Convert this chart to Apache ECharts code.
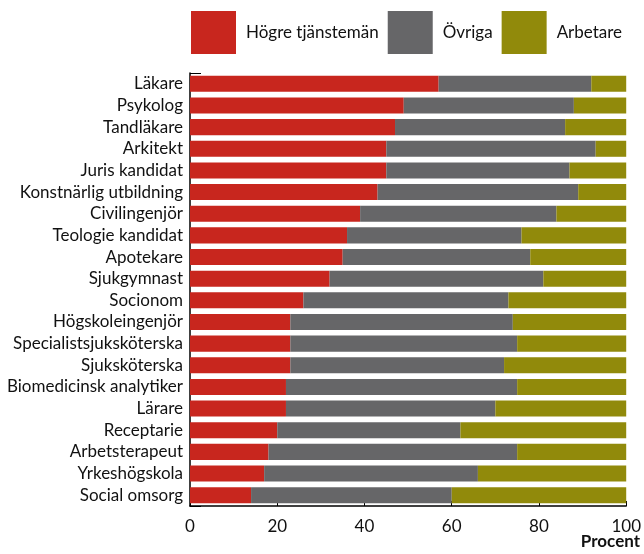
<!DOCTYPE html>
<html><head><meta charset="utf-8">
<script src="https://cdn.jsdelivr.net/npm/echarts@6/dist/echarts.min.js"></script>
<style>html,body{margin:0;padding:0;background:#fff}#c{width:644px;height:554px}</style>
</head><body><div id="c"></div>
<script>
const categories = ["Läkare","Psykolog","Tandläkare","Arkitekt","Juris kandidat","Konstnärlig utbildning","Civilingenjör","Teologie kandidat","Apotekare","Sjukgymnast","Socionom","Högskoleingenjör","Specialistsjuksköterska","Sjuksköterska","Biomedicinsk analytiker","Lärare","Receptarie","Arbetsterapeut","Yrkeshögskola","Social omsorg"];
const hogre   = [57,49,47,45,45,43,39,36,35,32,26,23,23,23,22,22,20,18,17,14];
const ovriga  = [35,39,39,48,42,46,45,40,43,49,47,51,52,49,53,48,42,57,49,46];
const arbetare= [8,12,14,7,13,11,16,24,22,19,27,26,25,28,25,30,38,25,34,40];
const xTicks = [0,20,40,60,80,100];
const seriesNames = ["Högre tjänstemän","Övriga","Arbetare"];
const colors = ["#c8261e","#666668","#918a0b"];
const font = "Lato, 'Open Sans', sans-serif";
const chart = echarts.init(document.getElementById('c'), null, {renderer:'canvas'});
const vals = [hogre, ovriga, arbetare];
chart.setOption({
  animation:false,
  textStyle:{fontFamily:font},
  title:{text:'Procent', right:4, top:533, padding:0,
    textStyle:{fontSize:17, fontWeight:'bold', color:'#111', fontFamily:font}},
  legend:{
    top:11, left:191, padding:0, itemWidth:45, itemHeight:43, itemGap:9, icon:'rect',
    textStyle:{fontSize:17, color:'#111', fontFamily:font, padding:[0,0,0,5]},
    data:seriesNames
  },
  grid:{left:190, right:17, top:73, bottom:48, containLabel:false},
  xAxis:{
    type:'value', min:0, max:100, interval:20,
    axisLine:{show:true, lineStyle:{color:'#000', width:1.5}},
    axisTick:{show:true, inside:true, length:5, lineStyle:{color:'#000'}},
    splitLine:{show:false},
    axisLabel:{fontSize:17, color:'#111', margin:12, fontFamily:font,
      formatter:v=>xTicks.includes(v)?String(v):''}
  },
  yAxis:{
    type:'category', inverse:true, data:categories,
    axisLine:{show:true, lineStyle:{color:'#000', width:1.5}},
    axisTick:{show:true, inside:true, length:11, interval:(i)=>i===0, lineStyle:{color:'#000'}},
    axisLabel:{interval:0, fontSize:17, color:'#111', margin:7, fontFamily:font}
  },
  series: seriesNames.map((n,i)=>({
    name:n, type:'bar', stack:'s', data:vals[i], barCategoryGap:'26%',
    itemStyle:{color:colors[i]}
  }))
});
</script></body></html>
